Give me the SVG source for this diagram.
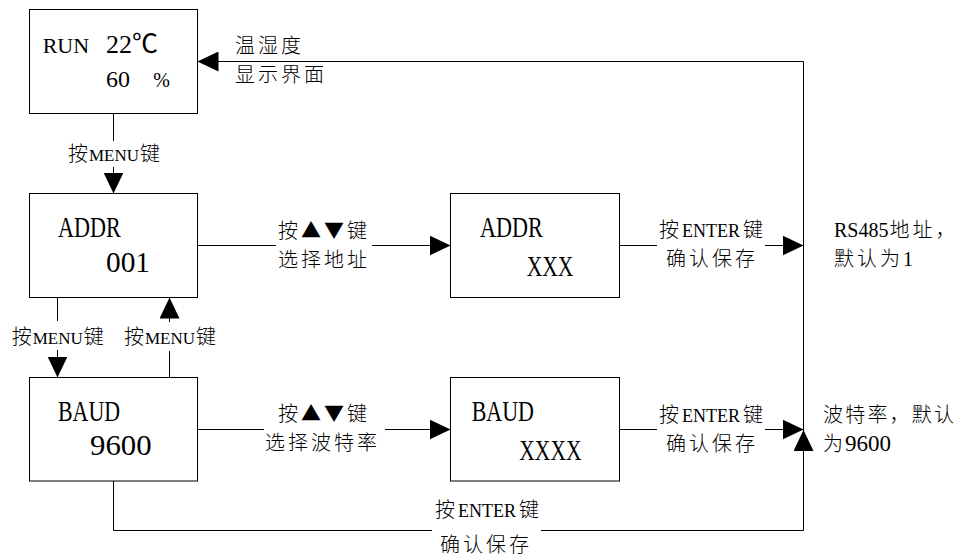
<svg xmlns="http://www.w3.org/2000/svg" width="968" height="556" viewBox="0 0 968 556">
<style>
.box{fill:#fff;stroke:#000;stroke-width:1}
.conn{fill:none;stroke:#000;stroke-width:1}
.arr{marker-end:url(#ah)}
.cjk{font-family:"Noto Sans CJK SC","Noto Sans CJK JP",sans-serif;font-size:20px;font-weight:300;fill:#000}
.sp{letter-spacing:3px}
.lat{font-family:"Liberation Serif","Noto Sans CJK SC",serif;font-weight:400;letter-spacing:0}
.m{font-size:17px}
.e{font-size:18px}
.big{font-family:"Liberation Serif","Noto Sans CJK SC",serif;font-size:29px;fill:#000}
.mid{font-family:"Liberation Serif","Noto Sans CJK SC",serif;font-size:24px;fill:#000}
</style>
<defs>
<marker id="ah" markerWidth="21" markerHeight="20" refX="21" refY="10" orient="auto" markerUnits="userSpaceOnUse">
<path d="M0,0 L21,10 L0,20 Z" fill="#000"/>
</marker>
</defs>
<rect width="968" height="556" fill="#fff"/>

<g id="connectors">
<path class="conn" d="M113.5,113.5 V141"/>
<path class="conn arr" d="M113.5,167 V193.5"/>
<path class="conn" d="M57.5,297.5 V321"/>
<path class="conn arr" d="M57.5,350 V377.5"/>
<path class="conn" d="M169.5,377.5 V351"/>
<path class="conn arr" d="M169.5,322 V297.5"/>
<path class="conn" d="M197.5,245.5 H276"/>
<path class="conn arr" d="M372,245.5 H450.5"/>
<path class="conn" d="M619.5,245.5 H657"/>
<path class="conn arr" d="M765,245.5 H803.5"/>
<path class="conn" d="M197.5,429.5 H264"/>
<path class="conn arr" d="M385,429.5 H450.5"/>
<path class="conn" d="M619.5,429.5 H657"/>
<path class="conn arr" d="M765,429.5 H803.5"/>
<path class="conn" d="M113.5,481 V530.5 H432"/>
<path class="conn arr" d="M541,530.5 H803.5 V61.5 H197.5"/>
<path class="conn arr" d="M803.5,460 V430"/>
</g>

<g id="n-run">
<rect class="box" x="29.5" y="9.5" width="168" height="104"/>
<text class="mid" y="52.7"><tspan x="42.7" style="font-size:22px">RUN</tspan> <tspan x="106" style="font-size:26px">22℃</tspan></text>
<text class="mid" y="87.3"><tspan x="106">60</tspan> <tspan x="153.3" style="font-size:20px">%</tspan></text>
</g>

<g id="n-addr">
<rect class="box" x="29.5" y="193.5" width="168" height="104"/>
<text class="big" x="58" y="236.7" textLength="62.7" lengthAdjust="spacingAndGlyphs">ADDR</text>
<text class="big" x="106" y="271.5" textLength="44" lengthAdjust="spacingAndGlyphs">001</text>
</g>

<g id="n-baud">
<rect class="box" x="29.5" y="377.5" width="168" height="103.5"/>
<text class="big" x="58" y="420.7" textLength="62" lengthAdjust="spacingAndGlyphs">BAUD</text>
<text class="big" x="90" y="455" textLength="61.7" lengthAdjust="spacingAndGlyphs">9600</text>
</g>

<g id="n-addr-set">
<rect class="box" x="450.5" y="193.5" width="169" height="104"/>
<text class="big" x="480" y="236.7" textLength="62.7" lengthAdjust="spacingAndGlyphs">ADDR</text>
<text class="big" x="526.7" y="276" textLength="46.7" lengthAdjust="spacingAndGlyphs">XXX</text>
</g>

<g id="n-baud-set">
<rect class="box" x="450.5" y="377.5" width="169" height="103.5"/>
<text class="big" x="471.7" y="420.7" textLength="62.3" lengthAdjust="spacingAndGlyphs">BAUD</text>
<text class="big" x="519.3" y="460" textLength="62.3" lengthAdjust="spacingAndGlyphs">XXXX</text>
</g>

<g id="labels">
<text class="cjk sp" x="235" y="53">温湿度</text>
<text class="cjk sp" x="235" y="82">显示界面</text>

<text class="cjk" x="68" y="160.5">按<tspan class="lat m" dx="1">MENU</tspan><tspan dx="1">键</tspan></text>
<text class="cjk" x="11.7" y="343.5">按<tspan class="lat m" dx="1">MENU</tspan><tspan dx="1">键</tspan></text>
<text class="cjk" x="124" y="343.5">按<tspan class="lat m" dx="1">MENU</tspan><tspan dx="1">键</tspan></text>

<text class="cjk sp" x="278" y="237.5">按▲▼键</text>
<text class="cjk sp" x="278" y="266.5">选择地址</text>
<text class="cjk sp" x="278" y="421">按▲▼键</text>
<text class="cjk sp" x="265" y="450">选择波特率</text>

<text class="cjk" x="659" y="237">按<tspan class="lat e" dx="3">ENTER</tspan><tspan dx="3">键</tspan></text>
<text class="cjk sp" x="666" y="266">确认保存</text>
<text class="cjk" x="659" y="421.5">按<tspan class="lat e" dx="3">ENTER</tspan><tspan dx="3">键</tspan></text>
<text class="cjk sp" x="666" y="450.5">确认保存</text>
<text class="cjk" x="435" y="516.5">按<tspan class="lat e" dx="3">ENTER</tspan><tspan dx="3">键</tspan></text>
<text class="cjk sp" x="440" y="551.5">确认保存</text>

<text class="cjk" x="834" y="237"><tspan class="lat">RS485</tspan><tspan class="sp" dx="1">地址，</tspan></text>
<text class="cjk" x="834" y="266"><tspan class="sp">默认为</tspan><tspan class="lat">1</tspan></text>
<text class="cjk" x="823" y="421.5" style="letter-spacing:2.2px">波特率，默认</text>
<text class="cjk" x="823" y="450.5">为<tspan class="lat" dx="2" style="font-size:23px">9600</tspan></text>
</g>
</svg>
